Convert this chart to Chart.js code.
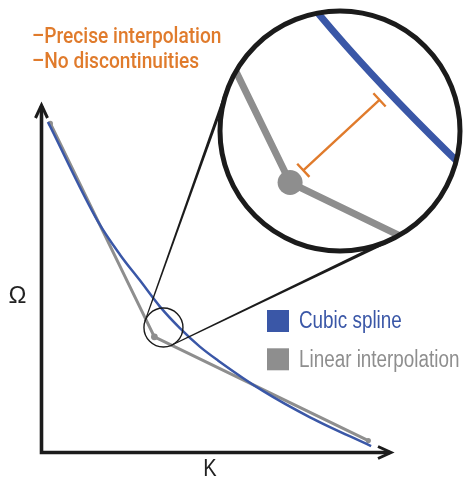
<!DOCTYPE html>
<html><head><meta charset="utf-8">
<script src="https://cdn.jsdelivr.net/npm/chart.js@4.4.1/dist/chart.umd.min.js"></script>
<style>html,body{margin:0;padding:0;background:#fff;}canvas{display:block;}</style>
</head><body>
<canvas id="c" width="469" height="479"></canvas>
<script>
// ---- data ----
const splineK      = [1.7, 16.1, 22.4, 28.1, 33.8, 39.5, 45.3, 50.4, 63.3, 76.8, 94.3];
const splineOmega  = [95.1, 66.3, 56.8, 49.4, 41.9, 35.7, 30.3, 26.4, 17.6, 10.0, 1.7];
const linearK      = [2.4, 32.2, 93.5];
const linearOmega  = [94.7, 33.2, 3.3];
const seriesLabels = ['Cubic spline', 'Linear interpolation'];
const noteLines    = ['–Precise interpolation', '–No discontinuities'];
const axisTitleX   = 'K';
const axisTitleY   = 'Ω';
const lensCenter   = [34.8, 35.9];   // spot that is magnified (data units)
const lensZoom     = 5.5;

const BLUE = '#3a57a7', GRAY = '#8e8e8e', ORANGE = '#e07b2c', INK = '#1b1b1b';
const NARROW = 0.82; // horizontal squeeze to mimic a narrow face

const toPts = (xs, ys) => xs.map((x, i) => ({x, y: ys[i]}));

function tangents(x1, y1, r1, x2, y2, r2) {
  const dx = x2 - x1, dy = y2 - y1, d = Math.hypot(dx, dy);
  const ux = dx / d, uy = dy / d, c = (r1 - r2) / d, h = Math.sqrt(Math.max(0, 1 - c * c));
  return [1, -1].map(s => {
    const nx = c * ux - s * h * uy, ny = c * uy + s * h * ux;
    return [x1 + r1 * nx, y1 + r1 * ny, x2 + r2 * nx, y2 + r2 * ny];
  });
}
function taper(ctx, x1, y1, x2, y2, w1, w2) {
  const dx = x2 - x1, dy = y2 - y1, L = Math.hypot(dx, dy), px = -dy / L, py = dx / L;
  ctx.beginPath();
  ctx.moveTo(x1 + px * w1 / 2, y1 + py * w1 / 2);
  ctx.lineTo(x2 + px * w2 / 2, y2 + py * w2 / 2);
  ctx.lineTo(x2 - px * w2 / 2, y2 - py * w2 / 2);
  ctx.lineTo(x1 - px * w1 / 2, y1 - py * w1 / 2);
  ctx.closePath(); ctx.fill();
}
function squeezedText(ctx, text, x, y, sx, align) {
  ctx.save();
  ctx.translate(x, y); ctx.scale(sx, 1);
  ctx.textAlign = align || 'left';
  ctx.fillText(text, 0, 0);
  ctx.restore();
}

const axesPlugin = {
  id: 'arrowAxes',
  beforeDatasetsDraw(chart) {
    const {ctx, chartArea: a} = chart;
    const L = a.left - 0.5, B = a.bottom + 0.5;
    ctx.save();
    ctx.strokeStyle = INK; ctx.lineWidth = 3.6; ctx.lineJoin = 'miter'; ctx.lineCap = 'butt';
    ctx.beginPath();
    ctx.moveTo(L, a.top + 1); ctx.lineTo(L, B); ctx.lineTo(a.right - 1, B);
    ctx.stroke();
    ctx.lineWidth = 3;
    ctx.beginPath();
    ctx.moveTo(L - 6, a.top + 13); ctx.lineTo(L, a.top); ctx.lineTo(L + 6, a.top + 13);
    ctx.moveTo(a.right - 13, B - 6); ctx.lineTo(a.right, B); ctx.lineTo(a.right - 13, B + 6);
    ctx.stroke();
    ctx.fillStyle = '#222'; ctx.textBaseline = 'alphabetic';
    ctx.font = '24.5px "Liberation Sans", Arial, sans-serif';
    squeezedText(ctx, axisTitleX, (a.left + a.right) / 2 - 6.5, 476, NARROW, 'center');
    ctx.font = '24px "Liberation Sans", Arial, sans-serif';
    squeezedText(ctx, axisTitleY, 17.5, 303, 1, 'center');
    ctx.restore();
  }
};

const lensPlugin = {
  id: 'lens',
  afterDatasetsDraw(chart) {
    const ctx = chart.ctx;
    const sx = chart.scales.x.getPixelForValue(lensCenter[0]);
    const sy = chart.scales.y.getPixelForValue(lensCenter[1]);
    const r1 = 19.5, cx = 340, cy = 131, R = 120, m = lensZoom;
    const toInset = (x, y) => ({x: cx + (x - sx) * m, y: cy + (y - sy) * m});

    ctx.save();
    ctx.fillStyle = INK;
    tangents(sx, sy, r1, cx, cy, R).forEach(t => taper(ctx, t[0], t[1], t[2], t[3], 1.2, 3.4));
    ctx.beginPath(); ctx.arc(sx, sy, r1, 0, Math.PI * 2);
    ctx.strokeStyle = INK; ctx.lineWidth = 1.4; ctx.stroke();

    ctx.save();
    ctx.beginPath(); ctx.arc(cx, cy, R, 0, Math.PI * 2);
    ctx.fillStyle = '#fff'; ctx.fill(); ctx.clip();
    ctx.translate(cx, cy); ctx.scale(m, m); ctx.translate(-sx, -sy);
    [1, 0].forEach(i => {
      const meta = chart.getDatasetMeta(i);
      ctx.beginPath();
      if (meta.dataset && typeof meta.dataset.path === 'function') {
        meta.dataset.path(ctx);
      } else {
        meta.data.forEach((p, j) => j ? ctx.lineTo(p.x, p.y) : ctx.moveTo(p.x, p.y));
      }
      ctx.lineWidth = 7 / m; ctx.lineJoin = 'round';
      ctx.strokeStyle = chart.data.datasets[i].borderColor; ctx.stroke();
    });
    const kp = chart.getDatasetMeta(1).data[1];
    ctx.beginPath(); ctx.arc(kp.x, kp.y, 12.5 / m, 0, Math.PI * 2);
    ctx.fillStyle = GRAY; ctx.fill();
    ctx.restore();

    const K = toInset(kp.x, kp.y);
    const bp = chart.getDatasetMeta(0).data.map(p => toInset(p.x, p.y));
    let best = null;
    for (let i = 0; i < bp.length - 1; i++) {
      const a = bp[i], b = bp[i + 1], vx = b.x - a.x, vy = b.y - a.y;
      let t = ((K.x - a.x) * vx + (K.y - a.y) * vy) / (vx * vx + vy * vy);
      t = Math.max(0, Math.min(1, t));
      const fx = a.x + t * vx, fy = a.y + t * vy, d = Math.hypot(fx - K.x, fy - K.y);
      if (!best || d < best.d) best = {x: fx, y: fy, d};
    }
    const ux = (best.x - K.x) / best.d, uy = (best.y - K.y) / best.d;
    const s0 = 18, s1 = best.d - 13.5, hc = 9;
    const p0 = {x: K.x + ux * s0, y: K.y + uy * s0}, p1 = {x: K.x + ux * s1, y: K.y + uy * s1};
    ctx.strokeStyle = ORANGE; ctx.lineWidth = 2.4; ctx.lineCap = 'butt';
    ctx.beginPath();
    ctx.moveTo(p0.x, p0.y); ctx.lineTo(p1.x, p1.y);
    [p0, p1].forEach(p => { ctx.moveTo(p.x - uy * hc, p.y + ux * hc); ctx.lineTo(p.x + uy * hc, p.y - ux * hc); });
    ctx.stroke();

    ctx.beginPath(); ctx.arc(cx, cy, R, 0, Math.PI * 2);
    ctx.strokeStyle = INK; ctx.lineWidth = 5; ctx.stroke();
    ctx.restore();
  }
};

const textPlugin = {
  id: 'texts',
  afterDraw(chart) {
    const ctx = chart.ctx;
    ctx.save();
    ctx.textBaseline = 'alphabetic';
    ctx.font = '500 22.5px Roboto, "Liberation Sans", sans-serif';
    ctx.fillStyle = ORANGE;
    noteLines.forEach((t, i) => squeezedText(ctx, t, 32, 43.3 + i * 24.4, 0.85));
    ctx.font = '23px "Liberation Sans", Arial, sans-serif';
    chart.data.datasets.forEach((ds, i) => {
      const y = 310 + i * 38.3;
      ctx.fillStyle = ds.borderColor;
      ctx.fillRect(267, y, 22, 22);
      squeezedText(ctx, ds.label, 299, y + 18.3, NARROW);
    });
    ctx.restore();
  }
};

new Chart(document.getElementById('c'), {
  type: 'scatter',
  data: {
    datasets: [
      {
        label: seriesLabels[0], data: toPts(splineK, splineOmega), showLine: true,
        borderColor: BLUE, backgroundColor: BLUE, borderWidth: 2.5,
        cubicInterpolationMode: 'monotone', pointRadius: 0, clip: false
      },
      {
        label: seriesLabels[1], data: toPts(linearK, linearOmega), showLine: true,
        borderColor: GRAY, backgroundColor: GRAY, borderWidth: 3,
        pointRadius: [2.6, 3.4, 2.6], pointBorderWidth: 0, clip: false
      }
    ]
  },
  options: {
    responsive: false, animation: false, devicePixelRatio: 1,
    layout: {padding: {left: 42, top: 105, right: 78, bottom: 27}},
    scales: {
      x: {type: 'linear', min: 0, max: 100, display: false},
      y: {type: 'linear', min: 0, max: 100, display: false}
    },
    plugins: {legend: {display: false}, title: {display: false}, tooltip: {enabled: false}}
  },
  plugins: [axesPlugin, lensPlugin, textPlugin]
});
</script>
</body></html>
